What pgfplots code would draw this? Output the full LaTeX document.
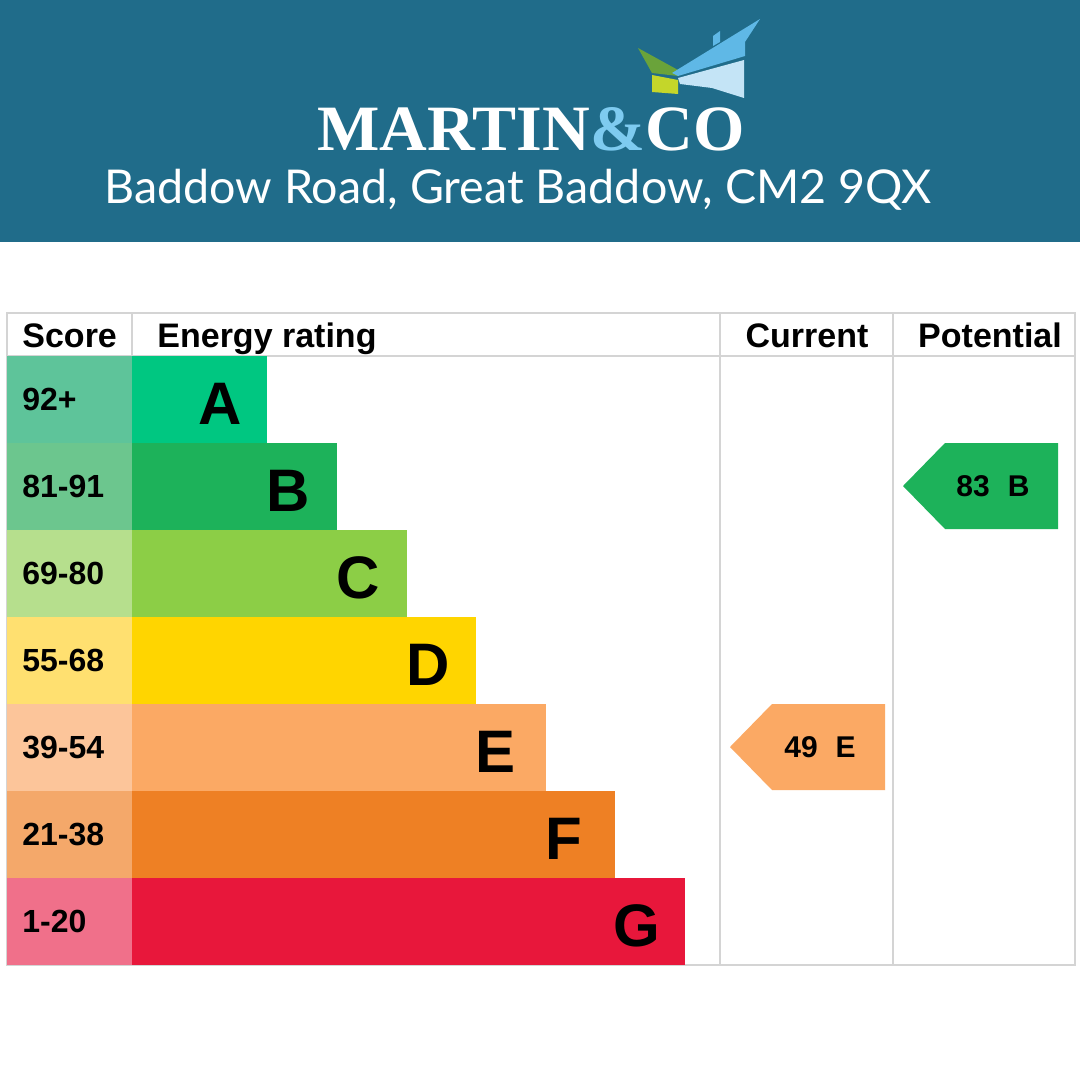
\documentclass[border=0pt]{standalone}
\usepackage{pgfplots}
\pgfplotsset{compat=1.18}
\usepackage{fontspec}
\setmainfont{Liberation Sans}
\newfontfamily\lato{Lato}
\newfontfamily\logofont{Liberation Serif}
\definecolor{band}{RGB}{32,108,138}
\definecolor{gridc}{RGB}{212,212,212}
\definecolor{sA}{RGB}{94,196,154}
\definecolor{sB}{RGB}{108,198,142}
\definecolor{sC}{RGB}{182,223,141}
\definecolor{sD}{RGB}{255,224,112}
\definecolor{sE}{RGB}{252,197,154}
\definecolor{sF}{RGB}{244,168,106}
\definecolor{sG}{RGB}{240,112,138}
\definecolor{bA}{RGB}{0,199,129}
\definecolor{bB}{RGB}{29,178,90}
\definecolor{bC}{RGB}{140,206,70}
\definecolor{bD}{RGB}{255,213,0}
\definecolor{bE}{RGB}{251,169,100}
\definecolor{bF}{RGB}{238,128,36}
\definecolor{bG}{RGB}{232,23,59}
\definecolor{logoblue}{RGB}{126,203,240}
\definecolor{roofblue}{RGB}{95,184,230}
\definecolor{wallblue}{RGB}{196,228,246}
\definecolor{flaggreen}{RGB}{106,163,58}
\definecolor{flagyellow}{RGB}{196,214,42}
\begin{document}
\begin{tikzpicture}
\begin{axis}[width=540pt,height=540pt,scale only axis,xmin=0,xmax=1080,ymin=0,ymax=1080,
  y dir=reverse,hide axis,clip=false]
% background
\addplot[fill=white,draw=none] coordinates {(0,0)(1080,0)(1080,1080)(0,1080)} --cycle;
% header band
\addplot[fill=band,draw=none] coordinates {(0,0)(1080,0)(1080,242)(0,242)} --cycle;
% logo icon
\addplot[fill=flaggreen,draw=none] coordinates {(638,48)(678,70)(678,76)(652,73)} --cycle;
\addplot[fill=flagyellow,draw=none] coordinates {(652,75)(678,80)(678,94)(652,92)} --cycle;
\addplot[fill=roofblue,draw=none] coordinates {(672,73)(760,19)(745,42)(745,56)(678,76)} --cycle;
\addplot[fill=roofblue,draw=none] coordinates {(713,36)(720,31)(720,42)(713,46)} --cycle;
\addplot[fill=wallblue,draw=none] coordinates {(678,78)(744,60)(744,98)(712,88)(680,84)} --cycle;
\node[anchor=base,inner sep=0,text=white] at (axis cs:531,150)
  {\resizebox{213.5pt}{21.5pt}{\logofont\bfseries MARTIN\textcolor{logoblue}{\&}CO}};
\node[anchor=base,inner sep=0,text=white] at (axis cs:518,203)
  {\lato\fontsize{23.3}{27}\selectfont Baddow Road, Great Baddow, CM2 9QX};
% grid lines
\addplot[draw=gridc,line width=1pt] coordinates {(7,313)(1075,313)(1075,965)(7,965)} --cycle;
\addplot[draw=gridc,line width=1pt] coordinates {(7,356)(1075,356)};
\addplot[draw=gridc,line width=1pt] coordinates {(132,313)(132,356)};
\addplot[draw=gridc,line width=1pt] coordinates {(720,313)(720,965)};
\addplot[draw=gridc,line width=1pt] coordinates {(893,313)(893,965)};
% score cells
\addplot[fill=sA,draw=none] coordinates {(7,356)(132,356)(132,443)(7,443)} --cycle;
\addplot[fill=sB,draw=none] coordinates {(7,443)(132,443)(132,530)(7,530)} --cycle;
\addplot[fill=sC,draw=none] coordinates {(7,530)(132,530)(132,617)(7,617)} --cycle;
\addplot[fill=sD,draw=none] coordinates {(7,617)(132,617)(132,704)(7,704)} --cycle;
\addplot[fill=sE,draw=none] coordinates {(7,704)(132,704)(132,791)(7,791)} --cycle;
\addplot[fill=sF,draw=none] coordinates {(7,791)(132,791)(132,878)(7,878)} --cycle;
\addplot[fill=sG,draw=none] coordinates {(7,878)(132,878)(132,965)(7,965)} --cycle;
% rating bars
\addplot[fill=bA,draw=none] coordinates {(132,356)(267,356)(267,443)(132,443)} --cycle;
\addplot[fill=bB,draw=none] coordinates {(132,443)(337,443)(337,530)(132,530)} --cycle;
\addplot[fill=bC,draw=none] coordinates {(132,530)(407,530)(407,617)(132,617)} --cycle;
\addplot[fill=bD,draw=none] coordinates {(132,617)(476,617)(476,704)(132,704)} --cycle;
\addplot[fill=bE,draw=none] coordinates {(132,704)(546,704)(546,791)(132,791)} --cycle;
\addplot[fill=bF,draw=none] coordinates {(132,791)(615,791)(615,878)(132,878)} --cycle;
\addplot[fill=bG,draw=none] coordinates {(132,878)(685,878)(685,965)(132,965)} --cycle;
% header texts
\begin{scope}[every node/.style={inner sep=0,font=\bfseries\fontsize{17}{20}\selectfont}]
\node[anchor=base west] at (axis cs:22,347) {Score};
\node[anchor=base west] at (axis cs:157,347) {Energy rating};
\node[anchor=base] at (axis cs:807,347) {Current};
\node[anchor=base] at (axis cs:990,347) {Potential};
\end{scope}
% score labels
\begin{scope}[every node/.style={inner sep=0,anchor=base west,font=\bfseries\fontsize{16}{19}\selectfont}]
\node at (axis cs:22,410) {92+};
\node at (axis cs:22,497) {81-91};
\node at (axis cs:22,584) {69-80};
\node at (axis cs:22,671) {55-68};
\node at (axis cs:22,758) {39-54};
\node at (axis cs:22,845) {21-38};
\node at (axis cs:22,932) {1-20};
\end{scope}
% band letters
\begin{scope}[every node/.style={inner sep=0,anchor=base east,font=\bfseries\fontsize{30}{34}\selectfont}]
\node at (axis cs:242,424) {A};
\node at (axis cs:310,511) {B};
\node at (axis cs:380,598) {C};
\node at (axis cs:450,685) {D};
\node at (axis cs:516,772) {E};
\node at (axis cs:583,859) {F};
\node at (axis cs:661,946) {G};
\end{scope}
% current / potential arrows
\addplot[fill=bE,draw=none] coordinates {(730,747)(772,704)(885,704)(885,790)(772,790)} --cycle;
\addplot[fill=bB,draw=none] coordinates {(903,486)(945,443)(1058,443)(1058,529)(945,529)} --cycle;
\node[inner sep=0,anchor=base,font=\bfseries\fontsize{15}{18}\selectfont] at (axis cs:820,757) {49\hspace{9pt}E};
\node[inner sep=0,anchor=base,font=\bfseries\fontsize{15}{18}\selectfont] at (axis cs:993,496) {83\hspace{9pt}B};
\end{axis}
\end{tikzpicture}
\end{document}
